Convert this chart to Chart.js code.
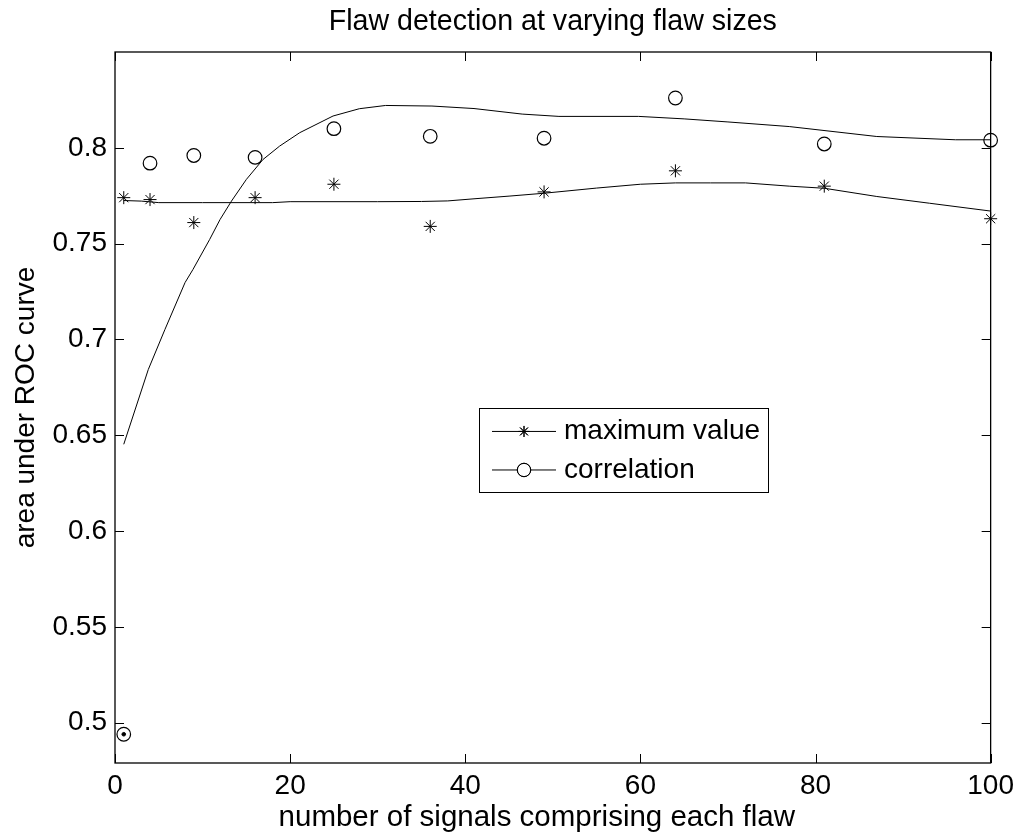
<!DOCTYPE html>
<html><head><meta charset="utf-8">
<script src="https://cdn.jsdelivr.net/npm/chart.js@4/dist/chart.umd.min.js"></script>
<style>html,body{margin:0;padding:0;background:#fff}</style>
</head><body>
<canvas id="c" width="1020" height="833"></canvas>
<script>
const signalCounts = [1, 4, 9, 16, 25, 36, 49, 64, 81, 100];
const maxValueAUC = [0.774, 0.773, 0.761, 0.774, 0.781, 0.759, 0.777, 0.788, 0.780, 0.763];
const correlationAUC = [0.494, 0.792, 0.796, 0.795, 0.810, 0.806, 0.805, 0.826, 0.802, 0.804];
const maxFitX = [1, 3, 5, 10, 18, 20, 30, 35, 38, 41, 45, 49, 55, 60, 64, 68, 72, 77, 81, 87, 93, 100];
const maxFitY = [0.7725, 0.7722, 0.7714, 0.7714, 0.7714, 0.7719, 0.7719, 0.7720, 0.7723, 0.7734, 0.7748, 0.7763, 0.7790, 0.7810, 0.7817, 0.7817, 0.7817, 0.7800, 0.7789, 0.7746, 0.7711, 0.7670];
const corrFitX = [1, 3.8, 5.7, 8, 8.9, 10.8, 12, 13.3, 15, 16.9, 18.8, 21.1, 24.9, 27.9, 30.9, 36.2, 41, 46.5, 50.7, 59.8, 65, 70, 77, 87, 96, 100];
const corrFitY = [0.6453, 0.6843, 0.7052, 0.7297, 0.7365, 0.7521, 0.7626, 0.7722, 0.7835, 0.7939, 0.8009, 0.8079, 0.8166, 0.8204, 0.8221, 0.8218, 0.8205, 0.8176, 0.8164, 0.8164, 0.8151, 0.8135, 0.8111, 0.8059, 0.8042, 0.8042];
const dotX = [1];
const dotY = [0.494];
const xTicks = [0, 20, 40, 60, 80, 100];
const yTicks = [0.5, 0.55, 0.6, 0.65, 0.7, 0.75, 0.8];
const legendLabels = ['maximum value', 'correlation'];
const chartTitle = 'Flaw detection at varying flaw sizes';
const xTitle = 'number of signals comprising each flaw';
const yTitle = 'area under ROC curve';

const FONT = '"Liberation Sans", Arial, Helvetica, sans-serif';
const FS = 28;
const toPts = (xs, ys) => xs.map((x, i) => ({x: x, y: ys[i]}));

const matlabAxes = {
  id: 'matlabAxes',
  beforeDatasetsDraw(chart) {
    const {ctx, chartArea: a, scales} = chart;
    ctx.save();
    ctx.strokeStyle = '#000';
    ctx.lineWidth = 1.3;
    ctx.strokeRect(a.left, a.top, a.right - a.left, a.bottom - a.top);
    ctx.lineWidth = 1;
    ctx.beginPath();
    const L = 9;
    xTicks.forEach(v => {
      const p = Math.round(scales.x.getPixelForValue(v)) + 0.5;
      ctx.moveTo(p, a.bottom); ctx.lineTo(p, a.bottom - L);
      ctx.moveTo(p, a.top); ctx.lineTo(p, a.top + L);
    });
    yTicks.forEach(v => {
      const p = Math.round(scales.y.getPixelForValue(v)) + 0.5;
      ctx.moveTo(a.left, p); ctx.lineTo(a.left + L, p);
      ctx.moveTo(a.right, p); ctx.lineTo(a.right - L, p);
    });
    ctx.stroke();
    ctx.restore();
  },
  afterDraw(chart) {
    const {ctx, chartArea: a} = chart;
    const w = a.right - a.left, h = a.bottom - a.top;
    const cx = (a.left + a.right) / 2;
    ctx.save();
    ctx.fillStyle = '#000';
    ctx.textAlign = 'center';
    ctx.textBaseline = 'alphabetic';
    ctx.font = '28.6px ' + FONT;
    ctx.fillText(chartTitle, cx, a.top - 22);
    ctx.font = '29.5px ' + FONT;
    ctx.fillText(xTitle, cx - 16, a.bottom + 63);

    const bx = a.left + w * 0.4157, by = a.top + h * 0.5007;
    const bw = w * 0.3303, bh = h * 0.1178;
    ctx.fillStyle = '#fff';
    ctx.fillRect(bx, by, bw, bh);
    ctx.strokeStyle = '#000';
    ctx.lineWidth = 1;
    ctx.strokeRect(Math.round(bx) + 0.5, Math.round(by) + 0.5, Math.round(bw), Math.round(bh));
    const rows = [by + bh * 0.28, by + bh * 0.74];
    const styles = ['star', 'circle'];
    rows.forEach((ry, i) => {
      ctx.beginPath();
      ctx.strokeStyle = '#000';
      ctx.lineWidth = 1;
      ctx.moveTo(bx + 13, ry); ctx.lineTo(bx + 77, ry);
      ctx.stroke();
      ctx.fillStyle = '#fff';
      Chart.helpers.drawPoint(ctx, {pointStyle: styles[i], radius: i === 0 ? 5.5 : 6.7, borderWidth: 1}, bx + 45, ry);
      ctx.stroke();
      ctx.fillStyle = '#000';
      ctx.font = FS + 'px ' + FONT;
      ctx.textBaseline = 'middle';
      ctx.textAlign = 'left';
      ctx.fillText(legendLabels[i], bx + 85, ry);
    });
    ctx.restore();
  }
};

new Chart(document.getElementById('c'), {
  type: 'scatter',
  data: {
    datasets: [
      {label: 'maximum value fit', data: toPts(maxFitX, maxFitY), showLine: true, borderColor: '#000', borderWidth: 1, pointRadius: 0, tension: 0},
      {label: 'correlation fit', data: toPts(corrFitX, corrFitY), showLine: true, borderColor: '#000', borderWidth: 1, pointRadius: 0, tension: 0},
      {label: legendLabels[0], data: toPts(signalCounts, maxValueAUC), pointStyle: 'star', pointRadius: 6.5, borderColor: '#000', borderWidth: 1, backgroundColor: '#000', clip: false},
      {label: legendLabels[1], data: toPts(signalCounts, correlationAUC), pointStyle: 'circle', pointRadius: 6.8, borderColor: '#000', borderWidth: 1.2, backgroundColor: 'rgba(0,0,0,0)', clip: false},
      {label: 'dot', data: toPts(dotX, dotY), pointStyle: 'circle', pointRadius: 1.8, borderColor: '#000', borderWidth: 1, backgroundColor: '#000', clip: false}
    ]
  },
  options: {
    responsive: false,
    animation: false,
    devicePixelRatio: 1,
    layout: {padding: {left: 0, right: 27, top: 52, bottom: 0}},
    plugins: {
      legend: {display: false},
      tooltip: {enabled: false},
      title: {display: false}
    },
    scales: {
      x: {
        type: 'linear', min: 0, max: 100,
        afterBuildTicks: s => { s.ticks = xTicks.map(v => ({value: v})); },
        afterFit: s => { s.height = 70; },
        grid: {display: false, drawTicks: false},
        border: {display: false},
        ticks: {color: '#000', font: {family: FONT, size: FS}, padding: 6, maxRotation: 0, callback: v => String(v)},
        title: {display: false}
      },
      y: {
        type: 'linear', min: 0.479, max: 0.85,
        afterBuildTicks: s => { s.ticks = yTicks.map(v => ({value: v})); },
        afterFit: s => { s.width = 115; },
        grid: {display: false, drawTicks: false},
        border: {display: false},
        ticks: {color: '#000', font: {family: FONT, size: FS}, padding: 8, callback: v => String(v)},
        title: {display: true, text: yTitle, color: '#000', font: {family: FONT, size: FS}, padding: {top: 9, bottom: 0}}
      }
    }
  },
  plugins: [matlabAxes]
});
</script>
</body></html>
